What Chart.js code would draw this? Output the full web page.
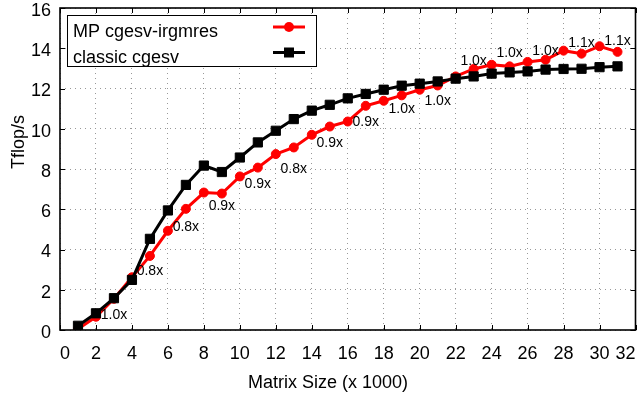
<!DOCTYPE html>
<html>
<head>
<meta charset="utf-8">
<script src="https://cdn.jsdelivr.net/npm/chart.js@4.4.1/dist/chart.umd.min.js"></script>
<style>
  html, body { margin: 0; padding: 0; background: #fff; }
  canvas { display: block; }
</style>
</head>
<body>
<canvas id="c" width="643" height="397"></canvas>
<script>
// ---- data ----
const matrixSizes = [1,2,3,4,5,6,7,8,9,10,11,12,13,14,15,16,17,18,19,20,21,22,23,24,25,26,27,28,29,30,31];
const mpIrgmres = [0.05,0.66,1.55,2.62,3.68,4.93,6.02,6.83,6.78,7.63,8.07,8.74,9.07,9.70,10.11,10.36,11.14,11.39,11.66,11.94,12.15,12.60,12.97,13.18,13.10,13.32,13.43,13.88,13.73,14.10,13.82];
const classicCgesv = [0.21,0.83,1.58,2.49,4.53,5.94,7.21,8.17,7.85,8.57,9.32,9.90,10.48,10.90,11.19,11.51,11.73,11.94,12.14,12.24,12.35,12.49,12.60,12.74,12.80,12.85,12.94,12.97,12.98,13.06,13.10];
const speedupX = [3,5,7,9,11,13,15,17,19,21,23,25,27,29,31];
const speedupY = [0.75,2.90,5.09,6.13,7.26,8.01,9.30,10.35,10.95,11.39,13.38,13.77,13.88,14.26,14.34];
const speedupText = ['1.0x','0.8x','0.8x','0.9x','0.9x','0.8x','0.9x','0.9x','1.0x','1.0x','1.0x','1.0x','1.0x','1.1x','1.1x'];
const seriesNames = ['MP cgesv-irgmres', 'classic cgesv'];
const xTitle = 'Matrix Size (x 1000)';
const yTitle = 'Tflop/s';

const FONT = '"Liberation Sans", Arial, Helvetica, sans-serif';

const framePlugin = {
  id: 'frame',
  beforeDatasetsDraw(chart) {
    const {ctx, chartArea: a, scales: {x, y}} = chart;
    ctx.save();
    ctx.strokeStyle = '#000';
    ctx.lineWidth = 1;
    // inward tick marks on all four sides
    const tl = 5;
    x.ticks.forEach(t => {
      const px = Math.round(x.getPixelForValue(t.value)) + 0.5;
      ctx.beginPath();
      ctx.moveTo(px, a.bottom); ctx.lineTo(px, a.bottom - tl);
      ctx.moveTo(px, a.top); ctx.lineTo(px, a.top + tl);
      ctx.stroke();
    });
    y.ticks.forEach(t => {
      const py = Math.round(y.getPixelForValue(t.value)) + 0.5;
      ctx.beginPath();
      ctx.moveTo(a.left, py); ctx.lineTo(a.left + tl, py);
      ctx.moveTo(a.right, py); ctx.lineTo(a.right - tl, py);
      ctx.stroke();
    });
    ctx.lineWidth = 1.6;
    ctx.strokeRect(a.left, a.top, a.right - a.left, a.bottom - a.top);
    ctx.restore();
  },
  afterDatasetsDraw(chart) {
    const {ctx, scales: {x, y}} = chart;
    ctx.save();
    // speed-up annotations
    ctx.fillStyle = '#000';
    ctx.font = '14px ' + FONT;
    ctx.textAlign = 'center';
    ctx.textBaseline = 'middle';
    speedupText.forEach((s, i) => {
      ctx.fillText(s, x.getPixelForValue(speedupX[i]), y.getPixelForValue(speedupY[i]));
    });
    // legend box (gnuplot style: text left, sample right)
    const bx = 67, by = 15, bw = 249, bh = 51;
    ctx.fillStyle = '#fff';
    ctx.fillRect(bx, by, bw, bh);
    ctx.strokeStyle = '#000';
    ctx.lineWidth = 1;
    ctx.strokeRect(bx + 0.5, by + 0.5, bw, bh);
    ctx.font = '18px ' + FONT;
    ctx.textAlign = 'left';
    ctx.textBaseline = 'alphabetic';
    chart.data.datasets.forEach((ds, i) => {
      const rowY = 27 + i * 25.5;
      ctx.fillStyle = '#000';
      ctx.fillText(ds.label, 73, rowY + 10);
      ctx.strokeStyle = ds.borderColor;
      ctx.lineWidth = ds.borderWidth;
      ctx.beginPath();
      ctx.moveTo(273, rowY); ctx.lineTo(305, rowY);
      ctx.stroke();
      ctx.fillStyle = ds.pointBackgroundColor;
      if (ds.pointStyle === 'rect') {
        ctx.fillRect(289 - 5, rowY - 5, 10, 10);
      } else {
        ctx.beginPath(); ctx.arc(289, rowY, 5, 0, Math.PI * 2); ctx.fill();
      }
    });
    // axis titles
    ctx.fillStyle = '#000';
    ctx.font = '18px ' + FONT;
    ctx.textAlign = 'center';
    ctx.textBaseline = 'alphabetic';
    ctx.fillText(xTitle, 328, 388);
    ctx.translate(24, 142);
    ctx.rotate(-Math.PI / 2);
    ctx.fillText(yTitle, 0, 0);
    ctx.restore();
  }
};

new Chart(document.getElementById('c'), {
  type: 'line',
  data: {
    datasets: [
      {
        label: seriesNames[0],
        data: matrixSizes.map((s, i) => ({x: s, y: mpIrgmres[i]})),
        borderColor: '#ff0000',
        backgroundColor: '#ff0000',
        pointBackgroundColor: '#ff0000',
        pointBorderColor: '#ff0000',
        borderWidth: 3,
        pointStyle: 'circle',
        pointRadius: 4.5,
        pointBorderWidth: 1,
        tension: 0,
        order: 2
      },
      {
        label: seriesNames[1],
        data: matrixSizes.map((s, i) => ({x: s, y: classicCgesv[i]})),
        borderColor: '#000000',
        backgroundColor: '#000000',
        pointBackgroundColor: '#000000',
        pointBorderColor: '#000000',
        borderWidth: 3,
        pointStyle: 'rect',
        pointRadius: 6.5,
        pointBorderWidth: 1,
        tension: 0,
        order: 1
      }
    ]
  },
  options: {
    responsive: false,
    animation: false,
    devicePixelRatio: 1,
    layout: { padding: { left: 0, top: 8, right: 7, bottom: 0 } },
    plugins: { legend: { display: false }, tooltip: { enabled: false } },
    scales: {
      x: {
        type: 'linear',
        min: 0, max: 32,
        ticks: { stepSize: 2, color: '#000', font: { family: FONT, size: 18 }, padding: 13, align: 'inner', maxRotation: 0 },
        grid: { color: '#999', lineWidth: 1, drawTicks: false },
        border: { display: false, dash: [1, 4] },
        afterFit(s) { s.height = 67; s.paddingLeft = 0; s.paddingRight = 0; }
      },
      y: {
        type: 'linear',
        min: 0, max: 16,
        ticks: { stepSize: 2, color: '#000', font: { family: FONT, size: 18 }, padding: 9, labelOffset: 3 },
        grid: { color: '#999', lineWidth: 1, drawTicks: false },
        border: { display: false, dash: [1, 4] },
        afterFit(s) { s.width = 60; s.paddingTop = 0; s.paddingBottom = 0; }
      }
    }
  },
  plugins: [framePlugin]
});
</script>
</body>
</html>
